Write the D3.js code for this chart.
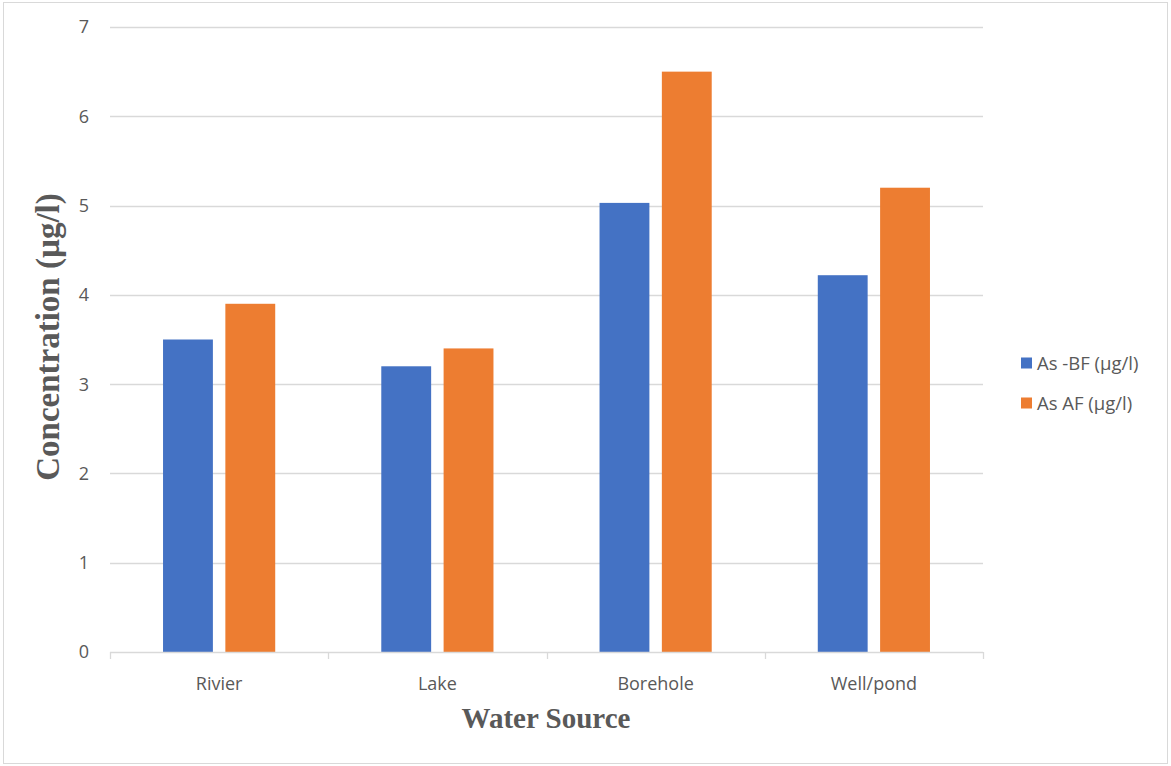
<!DOCTYPE html>
<html>
<head>
<meta charset="utf-8">
<script src="https://cdn.jsdelivr.net/npm/d3@7"></script>
<style>
  html, body { margin: 0; padding: 0; background: #fff; }
  svg { display: block; }
</style>
</head>
<body>
<svg id="chart" width="1171" height="766"></svg>
<script>
// Arsenic concentration by water source, before and after filtration
const categories = ["Rivier", "Lake", "Borehole", "Well/pond"];
const seriesNames = ["As -BF (µg/l)", "As AF (µg/l)"];
const asBF = [3.5, 3.2, 5.03, 4.22];
const asAF = [3.9, 3.4, 6.5, 5.2];
const yTicks = [0, 1, 2, 3, 4, 5, 6, 7];
const colors = ["#4472c4", "#ed7d31"];

const svg = d3.select("#chart");
const W = 1171, H = 766;
const plot = { left: 110, right: 983, top: 27, bottom: 652 };
const sans = "'Open Sans', sans-serif";
const serif = "'Liberation Serif', 'Times New Roman', serif";

// outer frame
svg.append("rect")
  .attr("x", 3.5).attr("y", 2.5)
  .attr("width", W - 7).attr("height", H - 5)
  .attr("fill", "#fff").attr("stroke", "#d9d9d9").attr("stroke-width", 1);

const x = d3.scaleBand().domain(categories).range([plot.left, plot.right]);
const y = d3.scaleLinear().domain([0, 7]).range([plot.bottom, plot.top]);

// two series side by side in the middle half of each category
const bw = x.bandwidth();
const x1 = d3.scaleBand().domain(seriesNames)
  .range([bw * 0.243, bw * 0.757]).paddingInner(0.2).paddingOuter(0);

// gridlines
svg.append("g")
  .selectAll("line").data(yTicks.filter(d => d > 0)).join("line")
  .attr("x1", plot.left).attr("x2", plot.right)
  .attr("y1", d => Math.round(y(d)) + 0.5).attr("y2", d => Math.round(y(d)) + 0.5)
  .attr("stroke", "#d9d9d9").attr("stroke-width", 1.3);

// y tick labels
svg.append("g")
  .selectAll("text").data(yTicks).join("text")
  .attr("x", 89).attr("y", d => y(d))
  .attr("dy", "0.36em")
  .attr("text-anchor", "end")
  .attr("font-family", sans)
  .attr("font-size", 18)
  .attr("fill", "#595959")
  .text(d => d);

// bars
const data = categories.map((c, i) => ({ cat: c, vals: [asBF[i], asAF[i]] }));
const groups = svg.append("g").selectAll("g").data(data).join("g")
  .attr("transform", d => `translate(${x(d.cat)},0)`);
groups.selectAll("rect").data(d => d.vals.map((v, j) => ({ name: seriesNames[j], v, j }))).join("rect")
  .attr("x", d => x1(d.name))
  .attr("width", x1.bandwidth())
  .attr("y", d => y(d.v))
  .attr("height", d => y(0) - y(d.v))
  .attr("fill", d => colors[d.j]);

// category axis
const axis = svg.append("g").attr("stroke", "#d9d9d9").attr("stroke-width", 1.3);
axis.append("line")
  .attr("x1", plot.left).attr("x2", plot.right)
  .attr("y1", plot.bottom + 0.5).attr("y2", plot.bottom + 0.5);
const tickXs = categories.map(c => x(c)).concat([x(categories[categories.length - 1]) + bw]);
axis.selectAll("line.tick").data(tickXs).join("line")
  .attr("class", "tick")
  .attr("x1", d => Math.round(d) + 0.5).attr("x2", d => Math.round(d) + 0.5)
  .attr("y1", plot.bottom).attr("y2", plot.bottom + 7);

svg.append("g")
  .selectAll("text").data(categories).join("text")
  .attr("x", d => x(d) + bw / 2)
  .attr("y", 690)
  .attr("text-anchor", "middle")
  .attr("font-family", sans)
  .attr("font-size", 18)
  .attr("fill", "#595959")
  .text(d => d);

// axis titles
svg.append("text")
  .attr("x", 546).attr("y", 728)
  .attr("text-anchor", "middle")
  .attr("font-family", serif)
  .attr("font-weight", "bold")
  .attr("font-size", 29)
  .attr("fill", "#595959")
  .text("Water Source");

svg.append("text")
  .attr("transform", "translate(59,337) rotate(-90)")
  .attr("text-anchor", "middle")
  .attr("font-family", serif)
  .attr("font-weight", "bold")
  .attr("font-size", 33)
  .attr("fill", "#595959")
  .text("Concentration (µg/l)");

// legend
const legend = svg.append("g").selectAll("g").data(seriesNames).join("g")
  .attr("transform", (d, i) => `translate(1021,${363 + i * 40})`);
legend.append("rect")
  .attr("x", 0).attr("y", -5.5).attr("width", 11).attr("height", 11)
  .attr("fill", (d, i) => colors[i]);
legend.append("text")
  .attr("x", 16).attr("y", 0).attr("dy", "0.36em")
  .attr("font-family", sans)
  .attr("font-size", 18.5)
  .attr("fill", "#595959")
  .text(d => d);
</script>
</body>
</html>
